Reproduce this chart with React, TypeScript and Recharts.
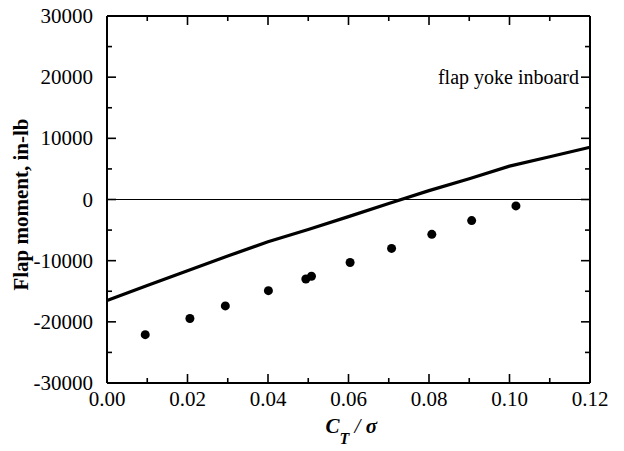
import React from "react";
import {
  ComposedChart,
  XAxis,
  YAxis,
  Line,
  Scatter,
  ReferenceLine,
  ReferenceDot,
} from "recharts";

const FONT = '"Liberation Serif", "Times New Roman", Times, serif';

// measured flap moment (test points)
const ctSigmaTest = [
  0.0095, 0.0206, 0.0294, 0.0401, 0.0494, 0.0508, 0.0604, 0.0707, 0.0807,
  0.0906, 0.1016,
];
const flapMomentTest = [
  -22100, -19450, -17400, -14900, -13000, -12550, -10300, -8000, -5700, -3450,
  -1050,
];

// predicted flap moment (analysis curve)
const ctSigmaCalc = [
  0, 0.01, 0.02, 0.03, 0.04, 0.05, 0.06, 0.07, 0.08, 0.09, 0.1, 0.11, 0.12,
];
const flapMomentCalc = [
  -16500, -14050, -11650, -9250, -6900, -4900, -2800, -650, 1450, 3400, 5450,
  7000, 8550,
];

// axis ticks: majors carry labels, the rest are minor marks
const xTicks = [
  0, 0.01, 0.02, 0.03, 0.04, 0.05, 0.06, 0.07, 0.08, 0.09, 0.1, 0.11, 0.12,
];
const xMajor = [0, 0.02, 0.04, 0.06, 0.08, 0.1, 0.12];
const yTicks = [
  -30000, -25000, -20000, -15000, -10000, -5000, 0, 5000, 10000, 15000, 20000,
  25000, 30000,
];
const yMajor = [-30000, -20000, -10000, 0, 10000, 20000, 30000];

const testData = ctSigmaTest.map((x, i) => ({ x, y: flapMomentTest[i] }));
const calcData = ctSigmaCalc.map((x, i) => ({ x, y: flapMomentCalc[i] }));

// layout
const WIDTH = 624;
const HEIGHT = 451;
const MARGIN = { top: 15, right: 33, bottom: 8, left: 0 };
const TOP_H = 1;
const RIGHT_W = 1;
const PLOT_TOP = MARGIN.top + TOP_H;
const PLOT_RIGHT = WIDTH - MARGIN.right - RIGHT_W;

const MAJOR = 9;
const MINOR = 5;
const TICK_W = 1.6;

const isMajor = (list: number[], v: number) =>
  list.some((m) => Math.abs(m - v) < 1e-9);

// bottom tick also mirrors an inward tick on the top frame edge
const renderBottomTick = (props: any) => {
  const { x, y, payload, index } = props;
  const major = isMajor(xMajor, payload.value);
  const len = major ? MAJOR : MINOR;
  return (
    <g key={`b-${index}`}>
      <line x1={x} y1={y} x2={x} y2={y - len} stroke="#000" strokeWidth={TICK_W} />
      <line x1={x} y1={PLOT_TOP} x2={x} y2={PLOT_TOP + len} stroke="#000" strokeWidth={TICK_W} />
      {major && (
        <text x={x} y={y + 23} textAnchor="middle" fontSize={21} fontFamily={FONT} fill="#000">
          {payload.value.toFixed(2)}
        </text>
      )}
    </g>
  );
};

// left tick also mirrors an inward tick on the right frame edge
const renderLeftTick = (props: any) => {
  const { x, y, payload, index } = props;
  const major = isMajor(yMajor, payload.value);
  const len = major ? MAJOR : MINOR;
  return (
    <g key={`l-${index}`}>
      <line x1={x} y1={y} x2={x + len} y2={y} stroke="#000" strokeWidth={TICK_W} />
      <line x1={PLOT_RIGHT} y1={y} x2={PLOT_RIGHT - len} y2={y} stroke="#000" strokeWidth={TICK_W} />
      {major && (
        <text x={x - 14} y={y + 7} textAnchor="end" fontSize={21} fontFamily={FONT} fill="#000">
          {payload.value}
        </text>
      )}
    </g>
  );
};

const Dot = (props: any) => {
  const { cx, cy } = props;
  return <circle cx={cx} cy={cy} r={4.5} fill="#000" />;
};

const XTitle = (props: any) => {
  const { viewBox } = props;
  const cx = viewBox.x + viewBox.width / 2;
  const base = viewBox.y + 50;
  return (
    <text x={cx - 23} y={base} fontFamily={FONT} fill="#000">
      <tspan fontSize={21} fontWeight="bold" fontStyle="italic">C</tspan>
      <tspan fontSize={16} fontWeight="bold" fontStyle="italic" dy={11}>T</tspan>
      <tspan fontSize={21} fontStyle="italic" dy={-11}>{" / "}</tspan>
      <tspan fontSize={21} fontWeight="bold" fontStyle="italic">σ</tspan>
    </text>
  );
};

const YTitle = (props: any) => {
  const { viewBox } = props;
  const cy = viewBox.y + viewBox.height / 2 + 5;
  const cx = 28;
  return (
    <text
      x={cx}
      y={cy}
      transform={`rotate(-90, ${cx}, ${cy})`}
      textAnchor="middle"
      fontSize={21}
      fontWeight="bold"
      fontFamily={FONT}
      fill="#000"
    >
      Flap moment, in-lb
    </text>
  );
};

export default function App() {
  return (
    <div style={{ position: "absolute", left: 0, top: 0, background: "#fff" }}>
      <ComposedChart width={WIDTH} height={HEIGHT} margin={MARGIN}>
        <XAxis
          xAxisId="bottom"
          dataKey="x"
          type="number"
          domain={[0, 0.12]}
          ticks={xTicks}
          interval={0}
          height={60}
          tickSize={0}
          tickMargin={0}
          tick={renderBottomTick}
          axisLine={{ stroke: "#000", strokeWidth: 2 }}
          label={<XTitle />}
        />
        <XAxis
          xAxisId="top"
          orientation="top"
          dataKey="x"
          type="number"
          domain={[0, 0.12]}
          ticks={xTicks}
          interval={0}
          height={TOP_H}
          tick={false}
          tickLine={false}
          axisLine={{ stroke: "#000", strokeWidth: 2 }}
        />
        <YAxis
          yAxisId="left"
          type="number"
          domain={[-30000, 30000]}
          ticks={yTicks}
          interval={0}
          width={107}
          tickSize={0}
          tickMargin={0}
          tick={renderLeftTick}
          axisLine={{ stroke: "#000", strokeWidth: 2 }}
          label={<YTitle />}
        />
        <YAxis
          yAxisId="right"
          orientation="right"
          type="number"
          domain={[-30000, 30000]}
          ticks={yTicks}
          interval={0}
          width={RIGHT_W}
          tick={false}
          tickLine={false}
          axisLine={{ stroke: "#000", strokeWidth: 2 }}
        />
        <ReferenceLine xAxisId="bottom" yAxisId="left" y={0} stroke="#000" strokeWidth={1.2} />
        <Line
          xAxisId="bottom"
          yAxisId="left"
          data={calcData}
          dataKey="y"
          type="linear"
          stroke="#000"
          strokeWidth={3.2}
          dot={false}
          isAnimationActive={false}
        />
        <Scatter
          xAxisId="bottom"
          yAxisId="left"
          data={testData}
          dataKey="y"
          shape={<Dot />}
          isAnimationActive={false}
        />
        <ReferenceDot
          xAxisId="bottom"
          yAxisId="left"
          x={0.12}
          y={20000}
          r={0}
          stroke="none"
          fill="none"
          label={{
            value: "flap yoke inboard",
            position: "left",
            offset: 11,
            fontSize: 20,
            fontFamily: FONT,
            fill: "#000",
          }}
        />
      </ComposedChart>
    </div>
  );
}
